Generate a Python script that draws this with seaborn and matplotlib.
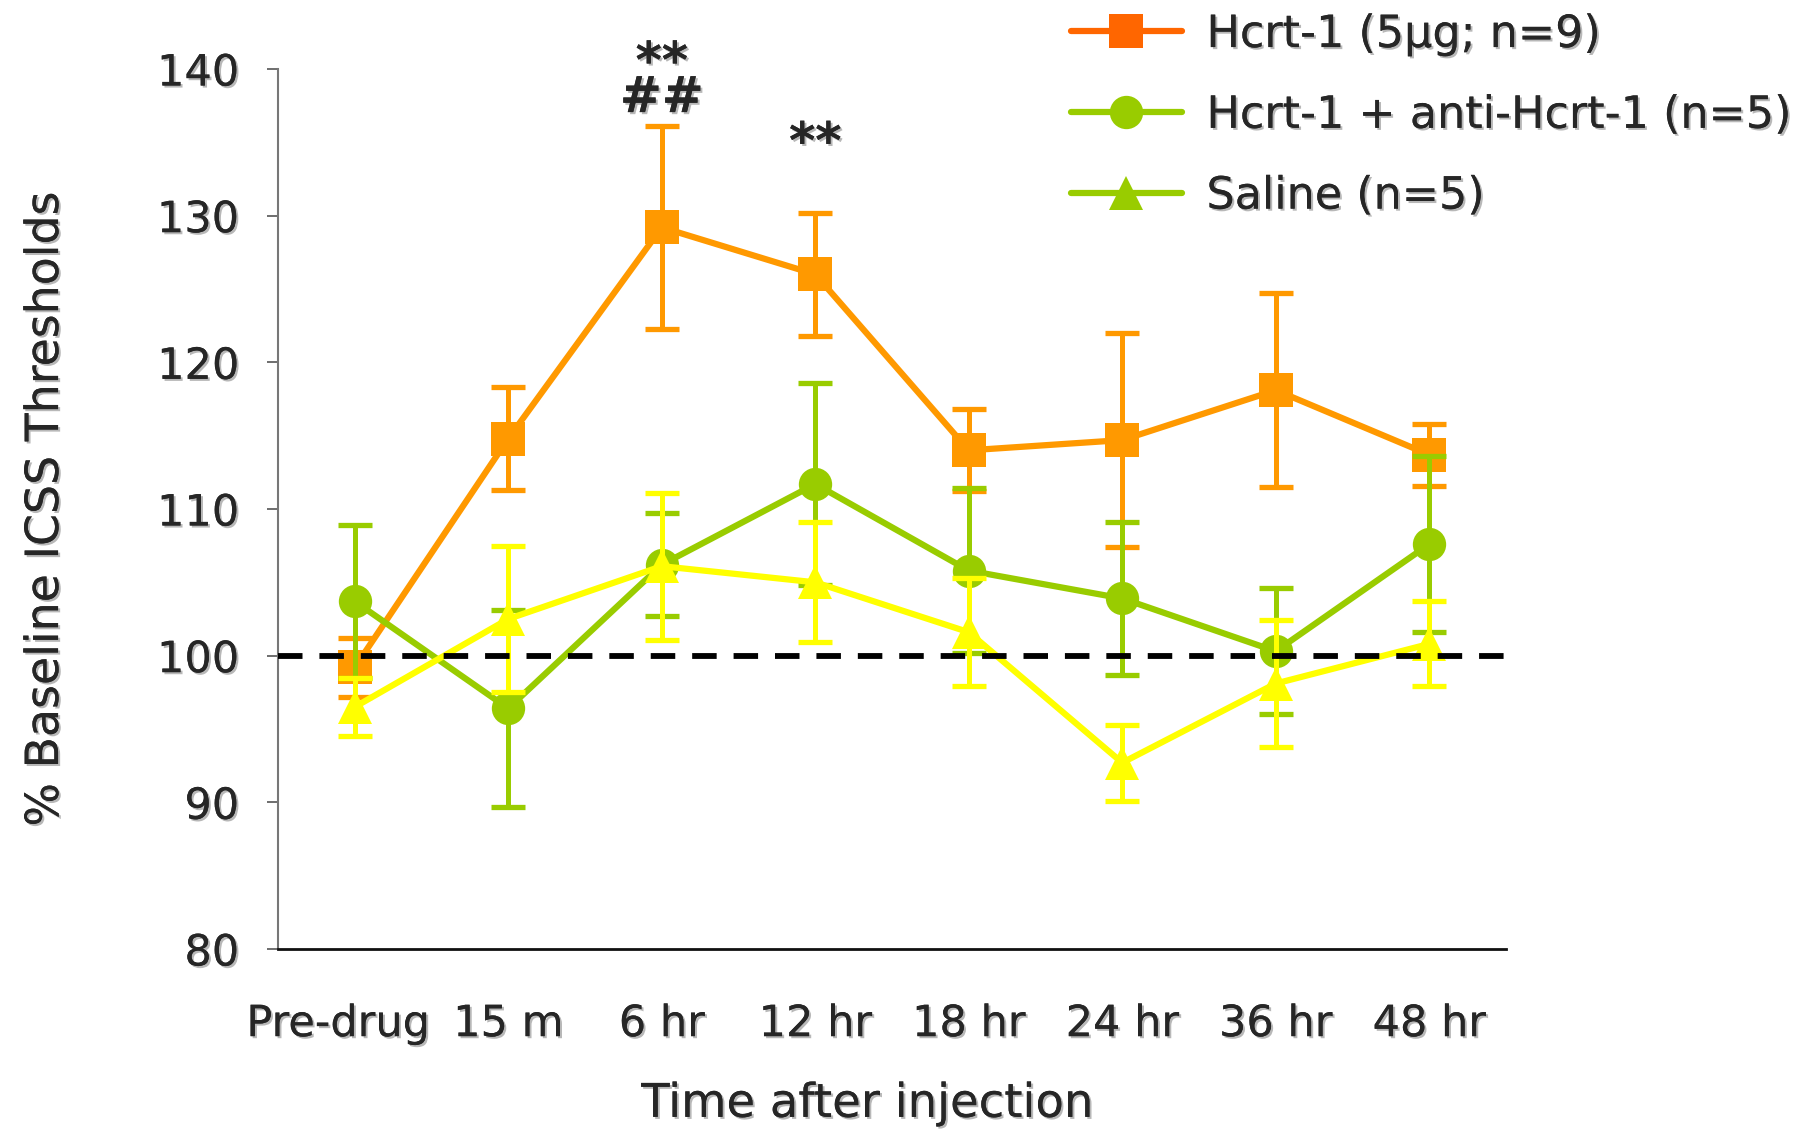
import numpy as np
import pandas as pd
import matplotlib
matplotlib.use("Agg")
import matplotlib.pyplot as plt
import matplotlib.patheffects as pe
import matplotlib.transforms as mtransforms
from matplotlib.lines import Line2D
import seaborn as sns

# ---- data ----
timepoints = ["Pre-drug", "15 m", "6 hr", "12 hr", "18 hr", "24 hr", "36 hr", "48 hr"]
hcrt_mean = [99.2, 114.8, 129.2, 126.0, 114.0, 114.7, 118.1, 113.7]
hcrt_sem = [2.0, 3.5, 6.9, 4.2, 2.8, 7.3, 6.6, 2.1]
anti_mean = [103.7, 96.4, 106.2, 111.7, 105.8, 103.9, 100.3, 107.6]
anti_sem = [5.2, 6.7, 3.5, 6.9, 5.6, 5.2, 4.3, 6.0]
saline_mean = [96.5, 102.5, 106.1, 105.0, 101.6, 92.7, 98.1, 100.8]
saline_sem = [2.0, 5.0, 5.0, 4.1, 3.7, 2.6, 4.3, 2.9]
series_names = ["Hcrt-1 (5μg; n=9)", "Hcrt-1 + anti-Hcrt-1 (n=5)", "Saline (n=5)"]
annot_text = ["**\n##", "**"]
annot_x = [2, 3]
annot_y = [139.2, 134.9]
baseline = 100
yticks = [80, 90, 100, 110, 120, 130, 140]

line_colors = ["#FF9900", "#99CC00", "#FFFF00"]
legend_colors = ["#FF6600", "#99CC00", "#99CC00"]
markers = ["s", "o", "^"]

sns.set_theme(style="white")
plt.rcParams["font.family"] = ["DejaVu Sans"]

shadow = [pe.withSimplePatchShadow(offset=(1.5, -1.5), shadow_rgbFace="#9a9a9a", alpha=0.7), pe.Normal()]

fig = plt.figure(figsize=(18.09, 11.35), dpi=100)
ax = fig.add_axes([0.1537, 0.1639, 0.6788, 0.7753])

x = np.arange(len(timepoints))
means = [hcrt_mean, anti_mean, saline_mean]
sems = [hcrt_sem, anti_sem, saline_sem]

rows = []
for name, m in zip(series_names, means):
    for xi, v in zip(x, m):
        rows.append({"x": xi, "value": v, "series": name})
df = pd.DataFrame(rows)

# error bars
for i, (m, s) in enumerate(zip(means, sems)):
    ax.errorbar(x, m, yerr=s, fmt="none", ecolor=line_colors[i], elinewidth=3.6,
                capsize=12, capthick=3.8, zorder=2 + i)

# lines with markers (seaborn)
for i, name in enumerate(series_names):
    sub = df[df["series"] == name]
    sns.lineplot(data=sub, x="x", y="value", ax=ax, color=line_colors[i],
                 marker=markers[i], markersize=24, markeredgewidth=0,
                 linewidth=4.5, legend=False, zorder=2.5 + i, errorbar=None)

# baseline dashed line
ax.axhline(baseline, color="black", lw=4.2, linestyle=(0, (4.2, 2.9)), zorder=6)

ax.set_xlim(-0.5, len(timepoints) - 0.5)
ax.set_ylim(80, 140)
ax.set_yticks(yticks)
ax.set_xticks(x)
ax.set_xticklabels(timepoints)
ax.set_xticks(np.arange(-0.5, len(timepoints)), minor=True)
ax.tick_params(axis="x", which="major", length=0, pad=39, labelsize=31)
ax.tick_params(axis="x", which="minor", length=8, width=1.2, color="#555555", direction="out")
ax.tick_params(axis="y", which="major", length=8, width=1.2, color="#555555", direction="out",
               pad=20, labelsize=31, left=True)

for sp in ["top", "right"]:
    ax.spines[sp].set_visible(False)
ax.spines["left"].set_color("#777777")
ax.spines["left"].set_linewidth(1.5)
ax.spines["bottom"].set_color("#111111")
ax.spines["bottom"].set_linewidth(2)

ax.set_xlabel("Time after injection", fontsize=33.5)
ax.set_ylabel("% Baseline ICSS Thresholds", fontsize=33)
ax.xaxis.set_label_coords(0.48, -0.151)
ax.yaxis.set_label_coords(-0.171, 0.5)

for t in ax.get_xticklabels() + ax.get_yticklabels():
    t.set_path_effects(shadow)
ax.xaxis.label.set_path_effects(shadow)
ax.yaxis.label.set_path_effects(shadow)

# nudge first category label slightly left, as in the reference
first = ax.get_xticklabels()[0]
first.set_transform(first.get_transform() +
                    mtransforms.ScaledTranslation(-12 / 72, 0, fig.dpi_scale_trans))

for txt, xa, ya in zip(annot_text, annot_x, annot_y):
    ax.text(xa, ya, txt, ha="center", va="center", fontsize=36, fontweight="bold",
            linespacing=0.65, clip_on=False, path_effects=shadow)

handles = [Line2D([0], [0], color=legend_colors[i], marker=markers[i], markersize=24,
                  markeredgewidth=0, linewidth=4.5) for i in range(3)]
leg = fig.legend(handles, series_names, loc="upper left", bbox_to_anchor=(0.592, 0.9885),
                 frameon=False, fontsize=32, handlelength=2.5, handletextpad=0.55,
                 labelspacing=0.85, borderpad=0, borderaxespad=0)
for t in leg.get_texts():
    t.set_path_effects(shadow)

fig.savefig("out.png", dpi=100)
